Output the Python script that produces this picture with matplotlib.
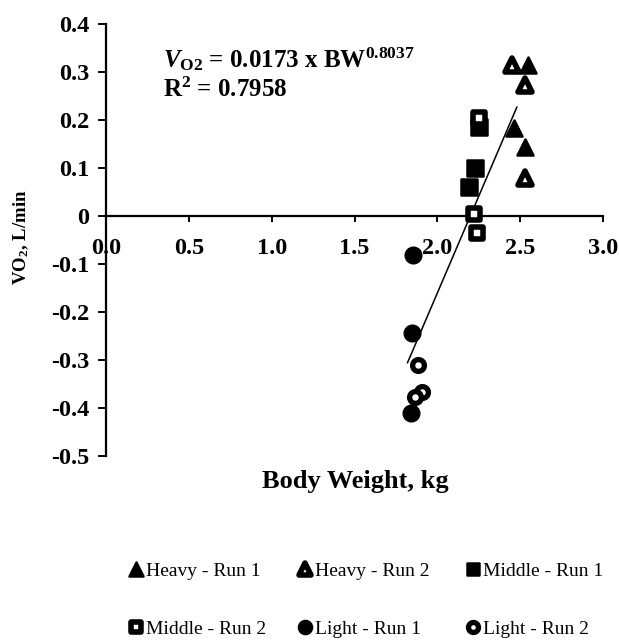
import numpy as np
import matplotlib
matplotlib.use("Agg")
import matplotlib.pyplot as plt
from matplotlib.markers import MarkerStyle

plt.rcParams['font.family'] = ['Liberation Serif', 'DejaVu Serif']
plt.rcParams['mathtext.fontset'] = 'custom'
plt.rcParams['mathtext.rm'] = 'Liberation Serif:bold'
plt.rcParams['mathtext.bf'] = 'Liberation Serif:bold'
plt.rcParams['mathtext.it'] = 'Liberation Serif:bold:italic'

# Body weight (kg) and oxygen consumption (L/min) per group and run
heavy_run1_bw = [2.55, 2.46, 2.53]
heavy_run1_vo2 = [0.315, 0.183, 0.144]
heavy_run2_bw = [2.45, 2.53, 2.53]
heavy_run2_vo2 = [0.315, 0.272, 0.080]
middle_run1_bw = [2.25, 2.23, 2.19]
middle_run1_vo2 = [0.185, 0.100, 0.060]
middle_run2_bw = [2.25, 2.22, 2.24]
middle_run2_vo2 = [0.205, 0.005, -0.035]
light_run1_bw = [1.855, 1.85, 1.84]
light_run1_vo2 = [-0.081, -0.244, -0.410]
light_run2_bw = [1.885, 1.905, 1.865]
light_run2_vo2 = [-0.310, -0.367, -0.377]

x_ticks = [0.0, 0.5, 1.0, 1.5, 2.0, 2.5, 3.0]
x_ticklabels = ["0.0", "0.5", "1.0", "1.5", "2.0", "2.5", "3.0"]
y_ticks = [0.4, 0.3, 0.2, 0.1, 0.0, -0.1, -0.2, -0.3, -0.4, -0.5]
y_ticklabels = ["0.4", "0.3", "0.2", "0.1", "0", "-0.1", "-0.2", "-0.3", "-0.4", "-0.5"]

W, H = 619, 641
fig = plt.figure(figsize=(W / 100, H / 100), dpi=100)
ax_l, ax_r, ax_t, ax_b = 106, 603, 24, 456
ax = fig.add_axes([ax_l / W, 1 - ax_b / H, (ax_r - ax_l) / W, (ax_b - ax_t) / H])

series = [
    ("Heavy - Run 1", heavy_run1_bw, heavy_run1_vo2, '^', 'black'),
    ("Heavy - Run 2", heavy_run2_bw, heavy_run2_vo2, '^', 'white'),
    ("Middle - Run 1", middle_run1_bw, middle_run1_vo2, 's', 'black'),
    ("Middle - Run 2", middle_run2_bw, middle_run2_vo2, 's', 'white'),
    ("Light - Run 1", light_run1_bw, light_run1_vo2, 'o', 'black'),
    ("Light - Run 2", light_run2_bw, light_run2_vo2, 'o', 'white'),
]

# marker size / edge width per (shape, filled)
marker_geom = {
    ('^', True): (11.5, 1.8), ('^', False): (9.5, 4.0),
    ('s', True): (11.0, 1.8), ('s', False): (9.0, 4.0),
    ('o', True): (12.0, 1.0), ('o', False): (8.5, 3.8),
}

handles = []
for label, xs, ys, mk, face in series:
    ms, mew = marker_geom[(mk, face == 'black')]
    h, = ax.plot(xs, ys, linestyle='none',
                 marker=MarkerStyle(mk, joinstyle='round'),
                 markersize=ms, markerfacecolor=face, markeredgecolor='black',
                 markeredgewidth=mew, label=label, zorder=3)
    handles.append(h)

# Linear trend through all points
all_x = np.concatenate([s[1] for s in series])
all_y = np.concatenate([s[2] for s in series])
slope, intercept = np.polyfit(all_x, all_y, 1)
xl = np.array([all_x.min() - 0.02, all_x.max() - 0.07])
ax.plot(xl, slope * xl + intercept, color='black', lw=1.1, zorder=2)

ax.set_xlim(0, 3.0)
ax.set_ylim(-0.5, 0.4)
for s in ['top', 'right']:
    ax.spines[s].set_visible(False)
ax.spines['bottom'].set_position(('data', 0))
ax.spines['bottom'].set_linewidth(1.6)
ax.spines['left'].set_linewidth(1.6)

ax.set_xticks(x_ticks)
ax.set_xticklabels(x_ticklabels, fontsize=17.5, fontweight='bold')
ax.set_yticks(y_ticks)
ax.set_yticklabels(y_ticklabels, fontsize=17.5, fontweight='bold')
ax.tick_params(axis='x', direction='out', length=4.5, width=1.4, pad=11)
ax.tick_params(axis='y', direction='out', length=6.0, width=1.4, pad=6)

fig.text(355 / W, 1 - 488 / H, "Body Weight, kg", ha='center', va='baseline',
         fontsize=19, fontweight='bold')
fig.text(21 / W, 1 - 237 / H, r"VO$_2$, L/min", rotation=90,
         ha='center', va='center', fontsize=13.5, fontweight='bold')

eq_x = 163 / W
fig.text(eq_x, 1 - 67 / H,
         r"$V_{\mathrm{O2}}$ = 0.0173 x BW$^{\mathrm{0.8037}}$",
         ha='left', va='baseline', fontsize=18, fontweight='bold')
fig.text(eq_x, 1 - 97 / H, r"R$^{\mathrm{2}}$ = 0.7958",
         ha='left', va='baseline', fontsize=18, fontweight='bold')

# Legend: three columns of two entries each
columns = [(0, 3), (1, 4), (2, 5)]
col_left = [128, 297, 465]
for (i, j), xl_px in zip(columns, col_left):
    fig.legend([handles[i], handles[j]],
               [handles[i].get_label(), handles[j].get_label()],
               loc='center left', bbox_to_anchor=(xl_px / W, 1 - 600 / H),
               frameon=False, fontsize=14, markerscale=0.85,
               borderpad=0, borderaxespad=0,
               handlelength=0.8, handletextpad=0.15, labelspacing=2.1)

fig.savefig("out.png", dpi=100)
